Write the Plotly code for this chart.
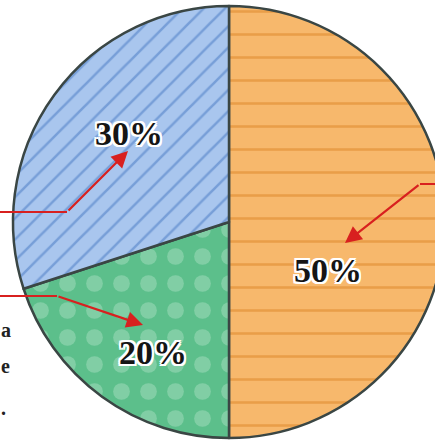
import plotly.graph_objects as go

# ---- data ----
categories = ["Orange", "Green", "Blue"]
values = [50, 20, 30]
slice_colors = ["#f7b86c", "#5cbf8b", "#a9c6ee"]
pattern_colors = ["#dc8324", "#a6dec0", "#4677c2"]
pattern_shapes = ["-", ".", "/"]
pattern_sizes = [23, 27, 15]
pattern_solid = [0.11, 0.3, 0.17]
label_texts = [f"{v}%" for v in values]

# ---- layout geometry (pixels) ----
W, H = 460, 445
CX, CY, R = 229, 222, 216
label_pos = [(328, 270), (153, 352), (129, 133)]
# arrows: (start, bend, tip)
arrows = [
    ((W, 184), (420, 184), (345, 243)),
    ((-5, 296), (57, 296), (143, 325)),
    ((-5, 212), (67, 212), (128, 151)),
]
fragments = [("a", 0, 330), ("e", 0, 366), (".", 0, 408)]


def px(x):
    return x / W


def py(y):
    return 1 - y / H


fig = go.Figure()
fig.add_trace(go.Pie(
    labels=categories,
    values=values,
    sort=False,
    direction="clockwise",
    rotation=0,
    textinfo="none",
    hoverinfo="skip",
    showlegend=False,
    domain=dict(x=[px(CX - R), px(CX + R)], y=[py(CY + R), py(CY - R)]),
    marker=dict(
        colors=slice_colors,
        line=dict(color="#3a4644", width=2.5),
        pattern=dict(
            shape=pattern_shapes,
            fgcolor=pattern_colors,
            size=pattern_sizes,
            solidity=pattern_solid,
            fillmode="overlay",
        ),
    ),
))

annotations = []
shapes = []
red = "#d8201f"
for (s, b, t) in arrows:
    shapes.append(dict(type="line", xref="paper", yref="paper",
                       x0=px(s[0]), y0=py(s[1]), x1=px(b[0]), y1=py(b[1]),
                       line=dict(color=red, width=2.2)))
    annotations.append(dict(
        x=px(t[0]), y=py(t[1]), xref="paper", yref="paper",
        ax=b[0] - t[0], ay=b[1] - t[1], axref="pixel", ayref="pixel",
        text="", showarrow=True, arrowhead=2, arrowsize=1.5,
        arrowwidth=2.2, arrowcolor=red, standoff=0,
    ))

for txt, (x, y) in zip(label_texts, label_pos):
    annotations.append(dict(
        x=px(x), y=py(y), xref="paper", yref="paper",
        text=f"<b>{txt}</b>", showarrow=False,
        xanchor="center", yanchor="middle",
        font=dict(family="Liberation Serif", size=34, color="#151515",
                  shadow="2px 2px 0 white, -2px -2px 0 white, 2px -2px 0 white, -2px 2px 0 white, 0 2px 0 white, 0 -2px 0 white, 2px 0 0 white, -2px 0 0 white"),
    ))

for txt, x, y in fragments:
    annotations.append(dict(
        x=px(x), y=py(y), xref="paper", yref="paper",
        text=f"<b>{txt}</b>", showarrow=False,
        xanchor="left", yanchor="middle", borderpad=0,
        font=dict(family="Liberation Serif", size=20, color="#222222"),
    ))

fig.update_layout(
    width=W, height=H,
    margin=dict(l=0, r=0, t=0, b=0),
    paper_bgcolor="white",
    plot_bgcolor="white",
    annotations=annotations,
    shapes=shapes,
)

fig.write_html(
    "out.html",
    config={"displayModeBar": False, "staticPlot": True},
    post_script="document.body.style.overflow='hidden';document.documentElement.style.overflow='hidden';document.body.style.margin='0';",
)
